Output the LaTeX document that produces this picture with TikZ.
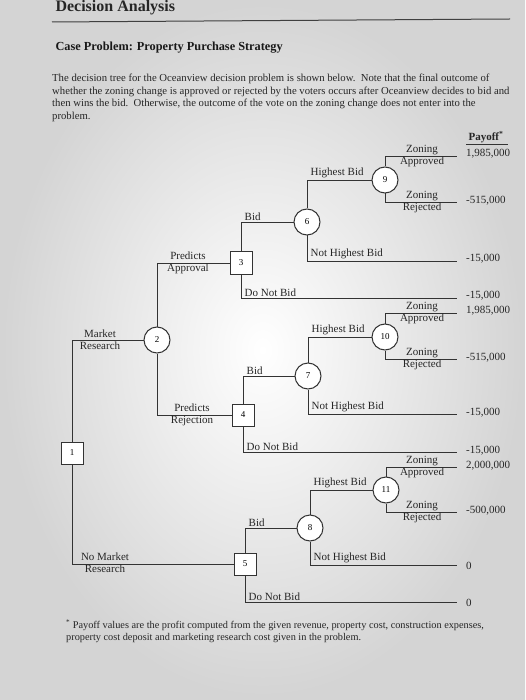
\documentclass[tikz,border=0pt]{standalone}
\usepackage{fontspec}
\setmainfont{Liberation Serif}
\usetikzlibrary{positioning}
\tikzset{
  decision/.style={
    draw=black!80, rectangle, line width=1pt,
    minimum size=22pt, inner sep=0pt, fill=white,
    font=\fontsize{9}{10}\selectfont
  },
  chance/.style={
    draw=black!80, circle, line width=1pt,
    minimum size=26pt, inner sep=0pt, fill=white,
    font=\fontsize{9}{10}\selectfont
  },
  branch/.style={
    line width=0.9pt, draw=black!80
  },
  branch label/.style={
    font=\fontsize{11}{12}\selectfont, text=black!85, inner sep=1.5pt
  },
  two line/.style={
    align=center, text=black!85, inner sep=0pt,
    font=\fontsize{11}{12}\selectfont
  },
  payoff/.style={
    anchor=west, inner sep=0pt, text=black!85,
    font=\fontsize{11}{12}\selectfont
  },
}

\begin{document}
\begin{tikzpicture}[x=1pt, y=-1pt]

  \useasboundingbox (0,0) rectangle (525,700);
  \shade[inner color=white, outer color=black!17] (0,0) rectangle (525,700);

  % Header
  \node[anchor=base west, font=\fontsize{16}{18}\selectfont\bfseries, text=black!85]
    (title) at (52,12) {Decision Analysis};
  \draw[line width=1pt, black!75] (52,22) -- (510,19);
  \node[anchor=west, font=\fontsize{12.3}{14}\selectfont\bfseries, text=black!90]
    (case) at (52,48) {Case Problem: Property Purchase Strategy};
  \node[anchor=north west, align=left, inner sep=0pt, text=black!85,
        font=\fontsize{10.7}{12.5}\selectfont] (intro) at (52,74) {
      The decision tree for the Oceanview decision problem is shown below.\ \ Note that the final outcome of\\
      whether the zoning change is approved or rejected by the voters occurs after Oceanview decides to bid and\\
      then wins the bid.\ \ Otherwise, the outcome of the vote on the zoning change does not enter into the\\
      problem.
    };

  % Payoff column head
  \node[font=\fontsize{11}{12}\selectfont\bfseries, text=black!85, inner sep=2pt]
    (payhd) at (486,137) {Payoff\textsuperscript{*}};
  \draw[line width=0.8pt, black!80] (466,144) -- (508,144);

  % Decision and chance nodes
  \node[decision] (n1) at (72,453) {1};
  \node[chance]   (n2) at (157,340) {2};
  \node[decision] (n3) at (241,263) {3};
  \node[decision] (n4) at (243,415) {4};
  \node[decision] (n5) at (245,564) {5};
  \node[chance]   (n6) at (307,222) {6};
  \node[chance]   (n7) at (308,376) {7};
  \node[chance]   (n8) at (310,528) {8};
  \node[chance]   (n9) at (385,180) {9};
  \node[chance]   (n10) at (385,337) {10};
  \node[chance]   (n11) at (386,490) {11};

  % Ends of the branches
  \coordinate (e9a) at (457,156);
  \coordinate (e9b) at (457,202);
  \coordinate (e6) at (457,261);
  \coordinate (e3) at (457,298);
  \coordinate (e10a) at (457,313);
  \coordinate (e10b) at (457,359);
  \coordinate (e7) at (457,414);
  \coordinate (e4) at (457,452);
  \coordinate (e11a) at (457,467);
  \coordinate (e11b) at (457,512);
  \coordinate (e8) at (457,565);
  \coordinate (e5) at (457,602);

  % Market research
  \draw[branch] (n2) -| (n1);
  \node[two line] (lmr) at (100,340) {Market\\Research};
  \draw[branch] (n1) |- (n5);
  \node[two line] (lnmr) at (105,563) {No Market\\Research};

  % Predicts approval
  \draw[branch] (n2) |- (n3);
  \node[two line] (lpa) at (188,263) {Predicts\\Approval};
  \draw[branch] (n3) |- (n6);
  \node[branch label, above right] (lbid3) at (243,222) {Bid};
  \draw[branch] (n3) |- (e3);
  \node[branch label, above right] (lnb3) at (243,298) {Do Not Bid};
  \draw[branch] (n6) |- (n9);
  \node[branch label, above right] (lhb6) at (309,180) {Highest Bid};
  \draw[branch] (n6) |- (e6);
  \node[branch label, above right] (lnh6) at (309,261) {Not Highest Bid};
  \draw[branch] (n9) |- (e9a);
  \node[two line] (lza9) at (422,156) {Zoning\\Approved};
  \draw[branch] (n9) |- (e9b);
  \node[two line] (lzr9) at (422,202) {Zoning\\Rejected};

  % Predicts rejection
  \draw[branch] (n2) |- (n4);
  \node[two line] (lpr) at (192,415) {Predicts\\Rejection};
  \draw[branch] (n4) |- (n7);
  \node[branch label, above right] (lbid4) at (245,376) {Bid};
  \draw[branch] (n4) |- (e4);
  \node[branch label, above right] (lnb4) at (245,452) {Do Not Bid};
  \draw[branch] (n7) |- (n10);
  \node[branch label, above right] (lhb7) at (310,337) {Highest Bid};
  \draw[branch] (n7) |- (e7);
  \node[branch label, above right] (lnh7) at (310,414) {Not Highest Bid};
  \draw[branch] (n10) |- (e10a);
  \node[two line] (lza10) at (422,313) {Zoning\\Approved};
  \draw[branch] (n10) |- (e10b);
  \node[two line] (lzr10) at (422,359) {Zoning\\Rejected};

  % No market research
  \draw[branch] (n5) |- (n8);
  \node[branch label, above right] (lbid5) at (247,528) {Bid};
  \draw[branch] (n5) |- (e5);
  \node[branch label, above right] (lnb5) at (247,602) {Do Not Bid};
  \draw[branch] (n8) |- (n11);
  \node[branch label, above right] (lhb8) at (312,490) {Highest Bid};
  \draw[branch] (n8) |- (e8);
  \node[branch label, above right] (lnh8) at (312,565) {Not Highest Bid};
  \draw[branch] (n11) |- (e11a);
  \node[two line] (lza11) at (422,467) {Zoning\\Approved};
  \draw[branch] (n11) |- (e11b);
  \node[two line] (lzr11) at (422,512) {Zoning\\Rejected};

  % Payoffs
  \node[payoff] (p9a) at (466,154) {1,985,000};
  \node[payoff] (p9b) at (466,201) {-515,000};
  \node[payoff] (p6) at (466,259) {-15,000};
  \node[payoff] (p3) at (466,296) {-15,000};
  \node[payoff] (p10a) at (466,311) {1,985,000};
  \node[payoff] (p10b) at (466,358) {-515,000};
  \node[payoff] (p7) at (466,413) {-15,000};
  \node[payoff] (p4) at (466,451) {-15,000};
  \node[payoff] (p11a) at (466,466) {2,000,000};
  \node[payoff] (p11b) at (466,511) {-500,000};
  \node[payoff] (p8) at (466,566) {0};
  \node[payoff] (p5) at (466,603) {0};

  % Footnote
  \node[anchor=north west, align=left, inner sep=0pt, text=black!85,
        font=\fontsize{10.3}{11.5}\selectfont] (note) at (66,620) {
      \textsuperscript{*} Payoff values are the profit computed from the given revenue, property cost, construction expenses,\\
      property cost deposit and marketing research cost given in the problem.
    };

\end{tikzpicture}
\end{document}
